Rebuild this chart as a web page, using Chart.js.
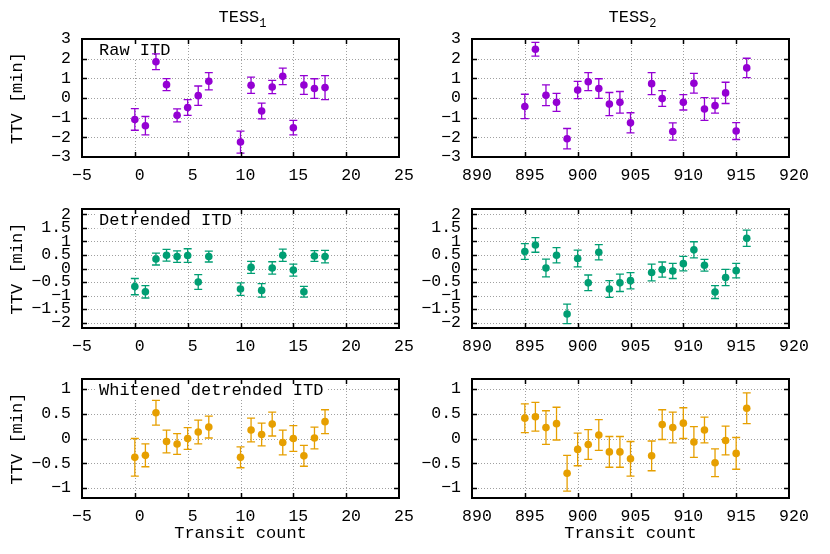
<!DOCTYPE html>
<html><head><meta charset="utf-8">
<script src="https://cdn.jsdelivr.net/npm/chart.js@4/dist/chart.umd.min.js"></script>
<style>
html,body{margin:0;padding:0;background:#fff;}
#wrap{position:relative;width:830px;height:554px;overflow:hidden;background:#fff;}
#wrap canvas{position:absolute;left:0;top:0;}
</style></head><body><div id="wrap">
<canvas id="c0" width="830" height="554"></canvas>
<canvas id="c1" width="830" height="554"></canvas>
<canvas id="c2" width="830" height="554"></canvas>
<canvas id="c3" width="830" height="554"></canvas>
<canvas id="c4" width="830" height="554"></canvas>
<canvas id="c5" width="830" height="554"></canvas>
</div>
<script>
// ---- data ----
const tess1X = [0,1,2,3,4,5,6,7,10,11,12,13,14,15,16,17,18];
const tess2X = [895,896,897,898,899,900,901,902,903,904,905,907,908,909,910,911,912,913,914,915,916];

const raw1    = [-1.09,-1.41,1.84,0.68,-0.88,-0.48,0.12,0.85,-2.24,0.65,-0.66,0.56,1.10,-1.51,0.66,0.48,0.53];
const raw1Err = [0.55,0.47,0.40,0.31,0.33,0.40,0.49,0.44,0.56,0.41,0.40,0.34,0.42,0.37,0.48,0.50,0.61];
const raw2    = [-0.43,2.48,0.14,-0.22,-2.07,0.41,0.83,0.48,-0.31,-0.22,-1.26,0.73,-0.03,-1.70,-0.22,0.75,-0.56,-0.39,0.26,-1.68,1.53];
const raw2Err = [0.62,0.35,0.53,0.46,0.52,0.44,0.46,0.50,0.59,0.55,0.51,0.56,0.40,0.44,0.39,0.50,0.58,0.38,0.54,0.43,0.49];

const det1    = [-0.67,-0.86,0.35,0.49,0.44,0.48,-0.50,0.44,-0.76,0.04,-0.81,0.02,0.49,-0.06,-0.86,0.46,0.44];
const det1Err = [0.30,0.23,0.22,0.22,0.21,0.25,0.27,0.20,0.23,0.22,0.25,0.23,0.23,0.22,0.20,0.20,0.23];
const det2    = [0.63,0.87,0.02,0.49,-1.68,0.37,-0.53,0.60,-0.76,-0.53,-0.45,-0.15,-0.04,-0.09,0.18,0.69,0.12,-0.87,-0.33,-0.08,1.12];
const det2Err = [0.29,0.27,0.33,0.28,0.36,0.31,0.29,0.28,0.31,0.32,0.30,0.31,0.28,0.28,0.27,0.30,0.22,0.24,0.30,0.27,0.30];

const wht1    = [-0.38,-0.34,0.52,-0.06,-0.11,0.00,0.13,0.23,-0.38,0.17,0.08,0.29,-0.08,0.00,-0.35,0.01,0.34];
const wht1Err = [0.38,0.23,0.25,0.23,0.21,0.22,0.24,0.22,0.21,0.24,0.23,0.24,0.25,0.26,0.21,0.22,0.24];
const wht2    = [0.41,0.44,0.22,0.30,-0.70,-0.22,-0.12,0.07,-0.27,-0.27,-0.41,-0.35,0.28,0.22,0.31,-0.07,0.17,-0.49,-0.04,-0.30,0.61];
const wht2Err = [0.29,0.29,0.34,0.33,0.36,0.33,0.30,0.31,0.31,0.31,0.35,0.30,0.30,0.31,0.31,0.31,0.26,0.28,0.29,0.32,0.31];

const xTicksLeft  = [-5,0,5,10,15,20,25];
const xTicksRight = [890,895,900,905,910,915,920];
const yTicksRaw = [-3,-2,-1,0,1,2,3];
const yTicksDet = [-2,-1.5,-1,-0.5,0,0.5,1,1.5,2];
const yTicksWht = [-1,-0.5,0,0.5,1];
const rowLabels = ['Raw ITD','Detrended ITD','Whitened detrended ITD'];
const colTitles = ['TESS','TESS'];
const colSubs = ['1','2'];
const yTitle = 'TTV [min]';
const xTitle = 'Transit count';

// ---- styling / layout ----
const FONT = "'Liberation Mono','Courier New',monospace";
const COLORS = ['#9400d3','#009e73','#e69f00'];
const ROWS = [{top:39,bottom:157,min:-3,max:3,ticks:yTicksRaw},
              {top:209,bottom:328,min:-2.2,max:2.2,ticks:yTicksDet},
              {top:379,bottom:498,min:-1.2,max:1.2,ticks:yTicksWht}];
const COLS = [{pad:0,left:82,right:399,min:-5,max:25,ticks:xTicksLeft,x:tess1X},
              {pad:415,left:472,right:789,min:890,max:920,ticks:xTicksRight,x:tess2X}];
const series = [[raw1,raw1Err,raw2,raw2Err],[det1,det1Err,det2,det2Err],[wht1,wht1Err,wht2,wht2Err]];

function fmt(v){
  const s = String(Math.round(v*100)/100);
  return v < 0 ? '\u2212' + s.slice(1) : ' ' + s;
}

const deco = {
  id:'deco',
  beforeDatasetsDraw(chart, args, o){
    const ctx = chart.ctx, a = chart.chartArea, xs = chart.scales.x, ys = chart.scales.y;
    ctx.save();
    ctx.strokeStyle = '#a0a0a0'; ctx.lineWidth = 1; ctx.setLineDash([1,2]);
    xs.ticks.forEach(t=>{
      if (t.value > xs.min && t.value < xs.max){
        const p = Math.round(xs.getPixelForValue(t.value))+0.5;
        ctx.beginPath(); ctx.moveTo(p,a.top); ctx.lineTo(p,a.bottom); ctx.stroke();
      }
    });
    ys.ticks.forEach(t=>{
      if (t.value > ys.min && t.value < ys.max){
        const p = Math.round(ys.getPixelForValue(t.value))+0.5;
        ctx.beginPath(); ctx.moveTo(a.left,p); ctx.lineTo(a.right,p); ctx.stroke();
      }
    });
    ctx.setLineDash([]);
    if (o.label){
      ctx.font = '17px ' + FONT;
      const w = ctx.measureText(o.label).width;
      const tx = a.left + 17, ty = a.top + 11.5;
      ctx.fillStyle = '#fff';
      ctx.fillRect(tx-4, a.top+1, w+8, ty - a.top + 7);
      ctx.fillStyle = '#000'; ctx.textBaseline = 'middle'; ctx.textAlign = 'left';
      ctx.fillText(o.label, tx, ty);
    }
    chart.data.datasets.forEach((ds,di)=>{
      const meta = chart.getDatasetMeta(di);
      ctx.strokeStyle = ds.backgroundColor; ctx.lineWidth = 1.3;
      ds.data.forEach((p,i)=>{
        const px = meta.data[i].x;
        const t = ys.getPixelForValue(p.y + p.e), b = ys.getPixelForValue(p.y - p.e);
        ctx.beginPath();
        ctx.moveTo(px,t); ctx.lineTo(px,b);
        ctx.moveTo(px-4,t); ctx.lineTo(px+4,t);
        ctx.moveTo(px-4,b); ctx.lineTo(px+4,b);
        ctx.stroke();
      });
    });
    ctx.restore();
  },
  afterDatasetsDraw(chart, args, o){
    const ctx = chart.ctx, a = chart.chartArea, xs = chart.scales.x, ys = chart.scales.y;
    ctx.save();
    ctx.strokeStyle = '#000'; ctx.lineWidth = 1.5;
    const L = 5;
    xs.ticks.forEach(t=>{
      if (t.value > xs.min && t.value < xs.max){
        const p = Math.round(xs.getPixelForValue(t.value))+0.5;
        ctx.beginPath(); ctx.moveTo(p,a.bottom); ctx.lineTo(p,a.bottom-L);
        ctx.moveTo(p,a.top); ctx.lineTo(p,a.top+L); ctx.stroke();
      }
    });
    ys.ticks.forEach(t=>{
      if (t.value > ys.min && t.value < ys.max){
        const p = Math.round(ys.getPixelForValue(t.value))+0.5;
        ctx.beginPath(); ctx.moveTo(a.left,p); ctx.lineTo(a.left+L,p);
        ctx.moveTo(a.right,p); ctx.lineTo(a.right-L,p); ctx.stroke();
      }
    });
    ctx.lineWidth = 2;
    ctx.strokeRect(a.left, a.top, a.right-a.left, a.bottom-a.top);
    if (o.title){
      ctx.fillStyle = '#000'; ctx.textBaseline = 'middle'; ctx.textAlign = 'left';
      ctx.font = '17px ' + FONT;
      const w1 = ctx.measureText(o.title).width;
      ctx.font = '12px ' + FONT;
      const w2 = ctx.measureText(o.sub).width;
      const cx = (a.left + a.right)/2 + 2;
      const x0 = cx - (w1+w2)/2;
      ctx.font = '17px ' + FONT;
      ctx.fillText(o.title, x0, 17);
      ctx.font = '12px ' + FONT;
      ctx.fillText(o.sub, x0 + w1, 23.5);
    }
    ctx.restore();
  }
};

let k = 0;
ROWS.forEach((row, ri)=>{
  COLS.forEach((col, ci)=>{
    const ys = series[ri][ci*2], es = series[ri][ci*2+1];
    const data = col.x.map((xv,i)=>({x:xv, y:ys[i], e:es[i]}));
    const isBottom = ri === 2, isLeft = ci === 0;
    const xH = isBottom ? 56 : 28;
    const yW = col.left - col.pad;
    new Chart(document.getElementById('c'+(k++)), {
      type:'scatter',
      data:{datasets:[{data, backgroundColor:COLORS[ri], borderWidth:0, pointRadius:3.8, pointHoverRadius:3.8}]},
      plugins:[deco],
      options:{
        responsive:false, animation:false, devicePixelRatio:1, events:[],
        layout:{padding:{left:col.pad, right:830-col.right, top:row.top, bottom:554-row.bottom-xH}},
        plugins:{legend:{display:false}, tooltip:{enabled:false},
          deco:{label: isLeft ? rowLabels[ri] : null, title: ri===0 ? colTitles[ci] : null, sub: colSubs[ci]}},
        scales:{
          x:{type:'linear', min:col.min, max:col.max,
             afterBuildTicks:s=>{s.ticks = col.ticks.map(v=>({value:v}));},
             afterFit:s=>{s.height = xH;},
             grid:{display:false, drawTicks:false}, border:{display:false},
             ticks:{autoSkip:false, maxRotation:0, padding:9, color:'#000', font:{family:FONT,size:16.5}, callback:v=>fmt(v)},
             title:{display:isBottom, text:xTitle, color:'#000', font:{family:FONT,size:17}, padding:{top:0,bottom:10}}},
          y:{type:'linear', min:row.min, max:row.max,
             afterBuildTicks:s=>{s.ticks = row.ticks.map(v=>({value:v}));},
             afterFit:s=>{s.width = yW;},
             grid:{display:false, drawTicks:false}, border:{display:false},
             ticks:{autoSkip:false, padding:11, color:'#000', font:{family:FONT,size:16.5}, callback:v=>fmt(v)},
             title:{display:isLeft, text:yTitle, color:'#000', font:{family:FONT,size:17}, padding:{top:7,bottom:0}}}
        }
      }
    });
  });
});
</script></body></html>
